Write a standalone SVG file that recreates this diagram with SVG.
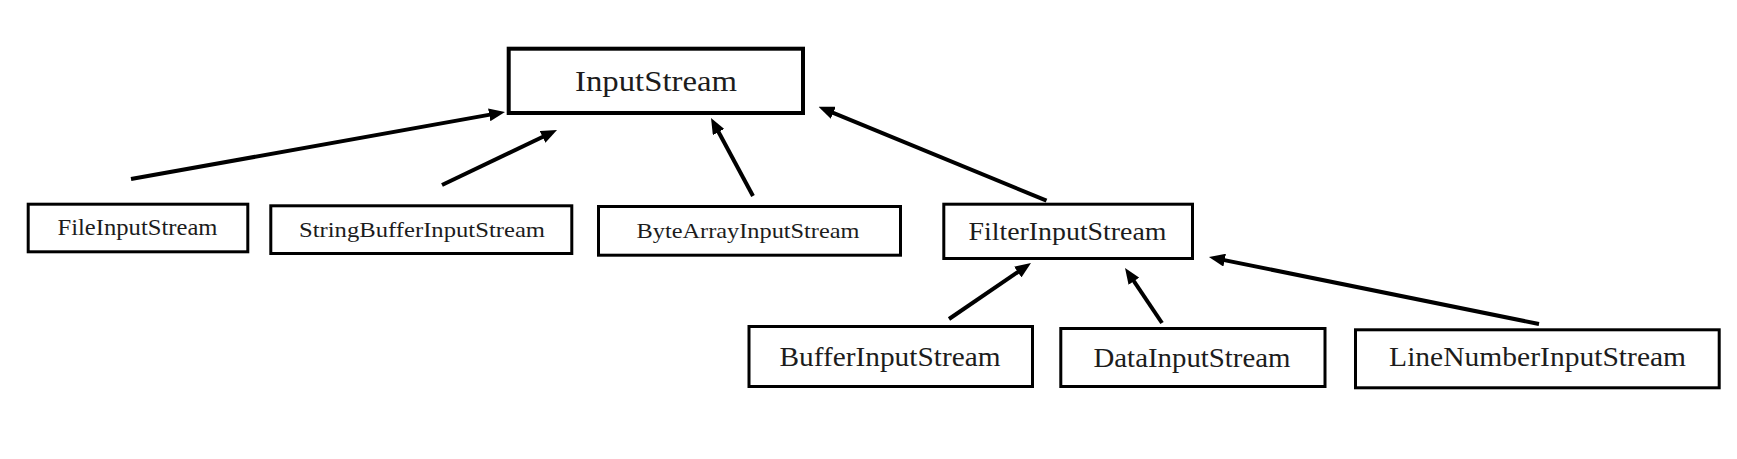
<svg xmlns="http://www.w3.org/2000/svg" width="1737" height="459" viewBox="0 0 1737 459">
<style>
.box{fill:#fff;stroke:#000;stroke-width:3}
.root{stroke-width:4}
.lbl{font-family:"Liberation Serif","Times New Roman",serif;fill:#1c1c1c;text-anchor:middle}
.edge{stroke:#000;stroke-width:4;fill:none;marker-end:url(#ah)}
</style>
<defs>
<marker id="ah" markerUnits="userSpaceOnUse" markerWidth="16" markerHeight="13" refX="8" refY="6.5" orient="auto">
<path d="M0,0 L16,6.5 L0,13 z" fill="#000"/>
</marker>
</defs>
<rect width="1737" height="459" fill="#fff"/>
<g id="connectors">
<line class="edge" x1="131" y1="179" x2="497.1" y2="113.4"/>
<line class="edge" x1="442" y1="185" x2="549.8" y2="133.5"/>
<line class="edge" x1="753" y1="196" x2="714.8" y2="125"/>
<line class="edge" x1="1046.5" y1="200.7" x2="825.9" y2="109.8"/>
<line class="edge" x1="949" y1="319" x2="1024.4" y2="267.5"/>
<line class="edge" x1="1162" y1="323" x2="1129.5" y2="274.6"/>
<line class="edge" x1="1539" y1="324" x2="1216.8" y2="258.6"/>
</g>
<g id="InputStream">
<rect class="box root" x="508.7" y="48.7" width="294.3" height="64.3"/>
<text class="lbl" x="656" y="91" font-size="29" textLength="162" lengthAdjust="spacingAndGlyphs">InputStream</text>
</g>
<g id="FileInputStream">
<rect class="box" x="28.2" y="204.2" width="219.6" height="47.6"/>
<text class="lbl" x="137.5" y="235" font-size="23" textLength="160" lengthAdjust="spacingAndGlyphs">FileInputStream</text>
</g>
<g id="StringBufferInputStream">
<rect class="box" x="270.8" y="205.8" width="301" height="47.7"/>
<text class="lbl" x="422" y="236.7" font-size="22" textLength="246" lengthAdjust="spacingAndGlyphs">StringBufferInputStream</text>
</g>
<g id="ByteArrayInputStream">
<rect class="box" x="598.5" y="206.5" width="302" height="48.7"/>
<text class="lbl" x="748" y="237.7" font-size="22" textLength="223" lengthAdjust="spacingAndGlyphs">ByteArrayInputStream</text>
</g>
<g id="FilterInputStream">
<rect class="box" x="943.8" y="204.2" width="248.7" height="54.3"/>
<text class="lbl" x="1067.5" y="240" font-size="26" textLength="198" lengthAdjust="spacingAndGlyphs">FilterInputStream</text>
</g>
<g id="BufferInputStream">
<rect class="box" x="749" y="326.5" width="283.5" height="60"/>
<text class="lbl" x="890" y="365.5" font-size="27" textLength="221" lengthAdjust="spacingAndGlyphs">BufferInputStream</text>
</g>
<g id="DataInputStream">
<rect class="box" x="1060.8" y="328.5" width="264.2" height="58"/>
<text class="lbl" x="1192" y="367" font-size="28" textLength="197" lengthAdjust="spacingAndGlyphs">DataInputStream</text>
</g>
<g id="LineNumberInputStream">
<rect class="box" x="1355.5" y="329.8" width="363.7" height="58"/>
<text class="lbl" x="1537.6" y="366" font-size="28" textLength="297" lengthAdjust="spacingAndGlyphs">LineNumberInputStream</text>
</g>
</svg>
